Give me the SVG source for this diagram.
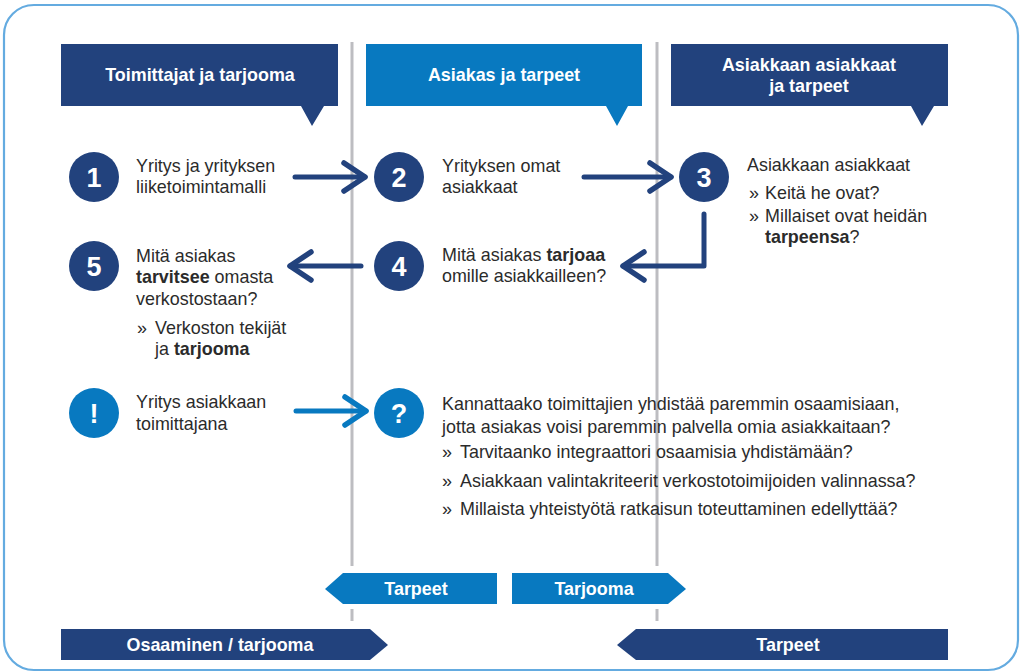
<svg xmlns="http://www.w3.org/2000/svg" width="1021" height="672" viewBox="0 0 1021 672">
  <defs>
    <style>
      .frame { fill: #ffffff; stroke: #64ABE0; stroke-width: 2.2; }
      .navy { fill: #22427D; }
      .blue { fill: #0879C0; }
      .sep { stroke: #BDBDC1; stroke-width: 3; fill: none; }
      .hdr { font-family: "Liberation Sans", Arial, sans-serif; font-weight: bold; font-size: 17.9px; fill: #ffffff; text-anchor: middle; }
      .num { font-family: "Liberation Sans", Arial, sans-serif; font-weight: bold; font-size: 27px; fill: #ffffff; text-anchor: middle; }
      .txt { font-family: "Liberation Sans", Arial, sans-serif; font-size: 17.9px; fill: #2B2B2B; }
      .b { font-weight: bold; }
      .conn { fill: none; stroke-width: 5; stroke-linecap: round; stroke-linejoin: round; }
      .conn.n { stroke: #22427D; }
      .conn.l { stroke: #0879C0; }
    </style>
    <marker id="chevNavy" markerUnits="userSpaceOnUse" markerWidth="40" markerHeight="40" viewBox="-30 -20 40 40" refX="0" refY="0" orient="auto" overflow="visible">
      <path d="M-21,-14 L0,0 L-21,14" fill="none" stroke="#22427D" stroke-width="5.5" stroke-linecap="round" stroke-linejoin="round"/>
    </marker>
    <marker id="chevBlue" markerUnits="userSpaceOnUse" markerWidth="40" markerHeight="40" viewBox="-30 -20 40 40" refX="0" refY="0" orient="auto" overflow="visible">
      <path d="M-21,-14 L0,0 L-21,14" fill="none" stroke="#0879C0" stroke-width="5.5" stroke-linecap="round" stroke-linejoin="round"/>
    </marker>
  </defs>

  <!-- outer frame -->
  <rect class="frame" x="4" y="5" width="1014" height="665" rx="30" ry="30"/>

  <!-- column separators -->
  <g id="separators">
    <line class="sep" x1="352" y1="42" x2="352" y2="566"/>
    <line class="sep" x1="352" y1="609" x2="352" y2="621"/>
    <line class="sep" x1="657" y1="42" x2="657" y2="566"/>
    <line class="sep" x1="657" y1="609" x2="657" y2="621"/>
  </g>

  <!-- column headers -->
  <g id="header-toimittajat">
    <path class="navy" d="M61,44 H338 V106 H324 L312,126 L301,106 H61 Z"/>
    <text class="hdr" x="200" y="81">Toimittajat ja tarjooma</text>
  </g>
  <g id="header-asiakas">
    <path class="blue" d="M366,44 H642 V106 H628 L617,126 L606,106 H366 Z"/>
    <text class="hdr" x="504" y="81">Asiakas ja tarpeet</text>
  </g>
  <g id="header-asiakkaan-asiakkaat">
    <path class="navy" d="M671,44 H948 V106 H934 L922,126 L911,106 H671 Z"/>
    <text class="hdr" x="809" y="71">Asiakkaan asiakkaat</text>
    <text class="hdr" x="809" y="92">ja tarpeet</text>
  </g>

  <!-- step 1 -->
  <g id="step1">
    <circle class="navy" cx="94" cy="177" r="25"/>
    <text class="num" x="94" y="186.5">1</text>
    <text class="txt" x="136" y="172">Yritys ja yrityksen</text>
    <text class="txt" x="136" y="193">liiketoimintamalli</text>
  </g>

  <!-- step 2 -->
  <g id="step2">
    <circle class="navy" cx="399" cy="177" r="25"/>
    <text class="num" x="399" y="186.5">2</text>
    <text class="txt" x="442" y="172">Yrityksen omat</text>
    <text class="txt" x="442" y="193">asiakkaat</text>
  </g>

  <!-- step 3 -->
  <g id="step3">
    <circle class="navy" cx="704" cy="177" r="25"/>
    <text class="num" x="704" y="186.5">3</text>
    <text class="txt" x="747" y="171">Asiakkaan asiakkaat</text>
    <text class="txt" x="749" y="199">»</text>
    <text class="txt" x="765" y="199">Keitä he ovat?</text>
    <text class="txt" x="749" y="222">»</text>
    <text class="txt" x="765" y="222">Millaiset ovat heidän</text>
    <text class="txt" x="765" y="243"><tspan class="b">tarpeensa</tspan>?</text>
  </g>

  <!-- step 4 -->
  <g id="step4">
    <circle class="navy" cx="399" cy="266" r="25"/>
    <text class="num" x="399" y="275.5">4</text>
    <text class="txt" x="442" y="261">Mitä asiakas <tspan class="b">tarjoaa</tspan></text>
    <text class="txt" x="442" y="282">omille asiakkailleen?</text>
  </g>

  <!-- step 5 -->
  <g id="step5">
    <circle class="navy" cx="94" cy="266" r="25"/>
    <text class="num" x="94" y="275.5">5</text>
    <text class="txt" x="136" y="262">Mitä asiakas</text>
    <text class="txt" x="136" y="283"><tspan class="b">tarvitsee</tspan> omasta</text>
    <text class="txt" x="136" y="305">verkostostaan?</text>
    <text class="txt" x="137" y="334">»</text>
    <text class="txt" x="155" y="334">Verkoston tekijät</text>
    <text class="txt" x="155" y="355">ja <tspan class="b">tarjooma</tspan></text>
  </g>

  <!-- supplier role -->
  <g id="step-supplier">
    <circle class="blue" cx="94" cy="413" r="25"/>
    <text class="num" x="94" y="422.5">!</text>
    <text class="txt" x="136" y="408">Yritys asiakkaan</text>
    <text class="txt" x="136" y="430">toimittajana</text>
  </g>

  <!-- open question -->
  <g id="step-question">
    <circle class="blue" cx="399" cy="413" r="25"/>
    <text class="num" x="399" y="422.5">?</text>
    <text class="txt" x="442" y="410">Kannattaako toimittajien yhdistää paremmin osaamisiaan,</text>
    <text class="txt" x="442" y="433">jotta asiakas voisi paremmin palvella omia asiakkaitaan?</text>
    <text class="txt" x="442" y="458">»</text>
    <text class="txt" x="460" y="458">Tarvitaanko integraattori osaamisia yhdistämään?</text>
    <text class="txt" x="442" y="487">»</text>
    <text class="txt" x="460" y="487">Asiakkaan valintakriteerit verkostotoimijoiden valinnassa?</text>
    <text class="txt" x="442" y="515">»</text>
    <text class="txt" x="460" y="515">Millaista yhteistyötä ratkaisun toteuttaminen edellyttää?</text>
  </g>

  <!-- connectors -->
  <g id="connectors">
    <path class="conn n" d="M295,177 H365" marker-end="url(#chevNavy)"/>
    <path class="conn n" d="M584,177 H671" marker-end="url(#chevNavy)"/>
    <path class="conn n" d="M704,214 V266 H623" marker-end="url(#chevNavy)"/>
    <path class="conn n" d="M361,266 H290" marker-end="url(#chevNavy)"/>
    <path class="conn l" d="M296,411 H366" marker-end="url(#chevBlue)"/>
  </g>

  <!-- flow bands -->
  <g id="band-tarpeet-blue">
    <path class="blue" d="M325,589 L343,573 H497 V604 H343 Z"/>
    <text class="hdr" x="416" y="595">Tarpeet</text>
  </g>
  <g id="band-tarjooma-blue">
    <path class="blue" d="M512,573 H668 L686,589 L668,604 H512 Z"/>
    <text class="hdr" x="594" y="595">Tarjooma</text>
  </g>
  <g id="band-osaaminen">
    <path class="navy" d="M61,629 H370 L388,645 L370,660 H61 Z"/>
    <text class="hdr" x="220" y="651">Osaaminen / tarjooma</text>
  </g>
  <g id="band-tarpeet-navy">
    <path class="navy" d="M617,645 L636,629 H948 V660 H636 Z"/>
    <text class="hdr" x="788" y="651">Tarpeet</text>
  </g>
</svg>
